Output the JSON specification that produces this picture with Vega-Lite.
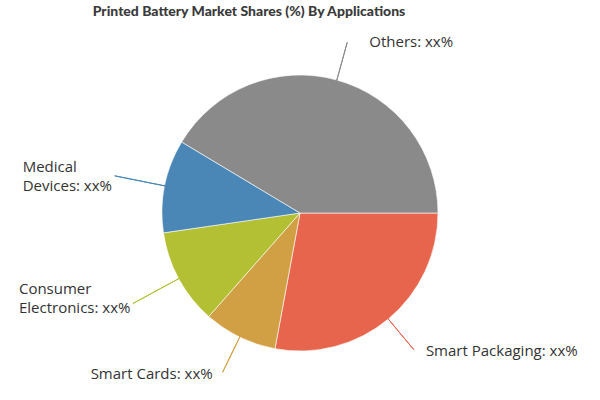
{
  "$schema": "https://vega.github.io/schema/vega-lite/v6.json",
  "width": 600,
  "height": 400,
  "autosize": {"type": "fit", "contains": "padding"},
  "padding": {"top": 5, "left": 0, "right": 0, "bottom": 0},
  "background": "white",
  "title": {
    "text": "Printed Battery Market Shares (%) By Applications",
    "font": "Lato",
    "fontSize": 14,
    "fontWeight": 900,
    "color": "#3a3a3a",
    "anchor": "middle",
    "dx": -51,
    "offset": 7
  },
  "config": {"view": {"stroke": null}},
  "data": {
    "values": [
      {"cat": "Smart Packaging", "share": 27.9, "idx": 1, "label": "Smart Packaging: xx%"},
      {"cat": "Smart Cards", "share": 8.6, "idx": 2, "label": "Smart Cards: xx%"},
      {"cat": "Consumer Electronics", "share": 11.2, "idx": 3, "label": "Consumer\nElectronics: xx%"},
      {"cat": "Medical Devices", "share": 10.9, "idx": 4, "label": "Medical\nDevices: xx%"},
      {"cat": "Others", "share": 41.4, "idx": 5, "label": "Others: xx%"}
    ]
  },
  "transform": [
    {"stack": "share", "groupby": [], "sort": [{"field": "idx", "order": "ascending"}], "as": ["s0", "s1"]},
    {"fold": ["s0", "s1"], "as": ["k", "v"]},
    {"aggregate": [
      {"op": "min", "field": "v", "as": "a0"},
      {"op": "max", "field": "v", "as": "a1"},
      {"op": "mean", "field": "v", "as": "mid"}
    ], "groupby": ["cat", "idx", "label"]}
  ],
  "layer": [
    {
      "mark": {"type": "arc", "outerRadius": 138, "stroke": "white", "strokeWidth": 0.6},
      "encoding": {
        "theta": {"field": "a0", "type": "quantitative", "stack": null, "scale": {"domain": [0, 100], "range": [1.5707963, 7.8539816]}},
        "theta2": {"field": "a1"},
        "color": {"field": "cat", "type": "nominal", "legend": null,
          "scale": {"domain": ["Smart Packaging", "Smart Cards", "Consumer Electronics", "Medical Devices", "Others"],
                    "range": ["#E8654D", "#D2A044", "#B4C034", "#4A87B7", "#8A8A8A"]}}
      }
    },
    {
      "transform": [{"filter": "datum.cat === 'Others'"}],
      "layer": [
        {"mark": {"type": "arc", "filled": false, "strokeWidth": 1, "innerRadius": 137, "outerRadius": 177},
         "encoding": {"theta": {"field": "mid", "type": "quantitative", "stack": null, "scale": {"domain": [0, 100], "range": [1.5707963, 7.8539816]}}, "theta2": {"field": "mid"}, "color": {"field": "cat", "type": "nominal", "legend": null}}},
        {"mark": {"type": "text", "radius": 177, "align": "left", "baseline": "middle", "dx": 22, "dy": 0, "font": "Open Sans", "fontSize": 15, "lineBreak": "\n", "lineHeight": 19},
         "encoding": {"theta": {"field": "mid", "type": "quantitative", "stack": null, "scale": {"domain": [0, 100], "range": [1.5707963, 7.8539816]}}, "text": {"field": "label"}, "color": {"value": "#333333"}}}
      ]
    },
    {
      "transform": [{"filter": "datum.cat === 'Medical Devices'"}],
      "layer": [
        {"mark": {"type": "arc", "filled": false, "strokeWidth": 1, "innerRadius": 137, "outerRadius": 189},
         "encoding": {"theta": {"field": "mid", "type": "quantitative", "stack": null, "scale": {"domain": [0, 100], "range": [1.5707963, 7.8539816]}}, "theta2": {"field": "mid"}, "color": {"field": "cat", "type": "nominal", "legend": null}}},
        {"mark": {"type": "text", "radius": 189, "align": "left", "baseline": "middle", "dx": -92, "dy": -9, "font": "Open Sans", "fontSize": 15, "lineBreak": "\n", "lineHeight": 19},
         "encoding": {"theta": {"field": "mid", "type": "quantitative", "stack": null, "scale": {"domain": [0, 100], "range": [1.5707963, 7.8539816]}}, "text": {"field": "label"}, "color": {"value": "#333333"}}}
      ]
    },
    {
      "transform": [{"filter": "datum.cat === 'Consumer Electronics'"}],
      "layer": [
        {"mark": {"type": "arc", "filled": false, "strokeWidth": 1, "innerRadius": 137, "outerRadius": 190},
         "encoding": {"theta": {"field": "mid", "type": "quantitative", "stack": null, "scale": {"domain": [0, 100], "range": [1.5707963, 7.8539816]}}, "theta2": {"field": "mid"}, "color": {"field": "cat", "type": "nominal", "legend": null}}},
        {"mark": {"type": "text", "radius": 190, "align": "left", "baseline": "middle", "dx": -114, "dy": -14, "font": "Open Sans", "fontSize": 15, "lineBreak": "\n", "lineHeight": 19},
         "encoding": {"theta": {"field": "mid", "type": "quantitative", "stack": null, "scale": {"domain": [0, 100], "range": [1.5707963, 7.8539816]}}, "text": {"field": "label"}, "color": {"value": "#333333"}}}
      ]
    },
    {
      "transform": [{"filter": "datum.cat === 'Smart Cards'"}],
      "layer": [
        {"mark": {"type": "arc", "filled": false, "strokeWidth": 1, "innerRadius": 137, "outerRadius": 177},
         "encoding": {"theta": {"field": "mid", "type": "quantitative", "stack": null, "scale": {"domain": [0, 100], "range": [1.5707963, 7.8539816]}}, "theta2": {"field": "mid"}, "color": {"field": "cat", "type": "nominal", "legend": null}}},
        {"mark": {"type": "text", "radius": 177, "align": "right", "baseline": "middle", "dx": -10, "dy": 2, "font": "Open Sans", "fontSize": 15, "lineBreak": "\n", "lineHeight": 19},
         "encoding": {"theta": {"field": "mid", "type": "quantitative", "stack": null, "scale": {"domain": [0, 100], "range": [1.5707963, 7.8539816]}}, "text": {"field": "label"}, "color": {"value": "#333333"}}}
      ]
    },
    {
      "transform": [{"filter": "datum.cat === 'Smart Packaging'"}],
      "layer": [
        {"mark": {"type": "arc", "filled": false, "strokeWidth": 1, "innerRadius": 137, "outerRadius": 178},
         "encoding": {"theta": {"field": "mid", "type": "quantitative", "stack": null, "scale": {"domain": [0, 100], "range": [1.5707963, 7.8539816]}}, "theta2": {"field": "mid"}, "color": {"field": "cat", "type": "nominal", "legend": null}}},
        {"mark": {"type": "text", "radius": 178, "align": "left", "baseline": "middle", "dx": 12, "dy": 1, "font": "Open Sans", "fontSize": 15, "lineBreak": "\n", "lineHeight": 19},
         "encoding": {"theta": {"field": "mid", "type": "quantitative", "stack": null, "scale": {"domain": [0, 100], "range": [1.5707963, 7.8539816]}}, "text": {"field": "label"}, "color": {"value": "#333333"}}}
      ]
    }
  ]
}
